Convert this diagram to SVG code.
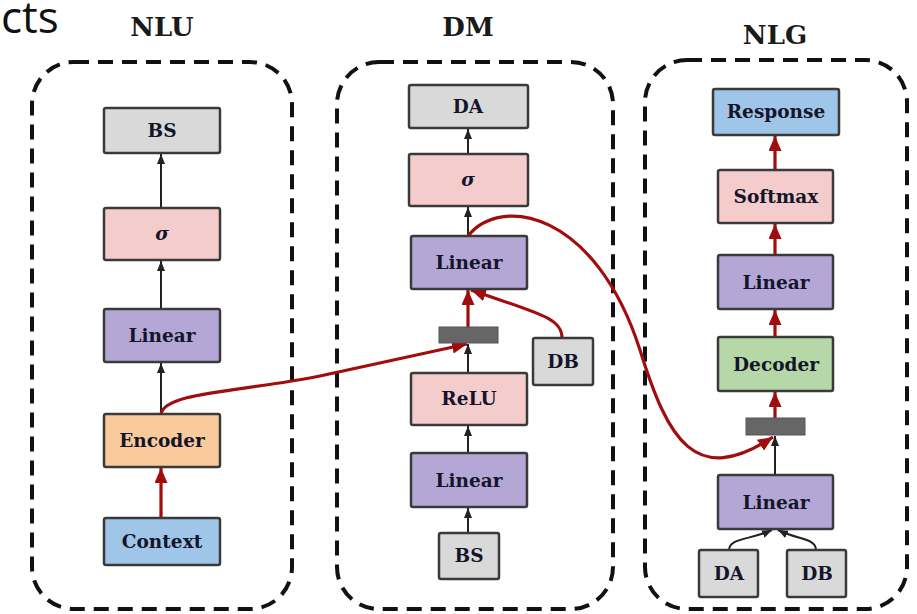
<svg xmlns="http://www.w3.org/2000/svg" width="917" height="614" viewBox="0 0 917 614">
  <style>
    .panel { fill: none; stroke: #111; stroke-width: 4; stroke-dasharray: 15 9; }
    .title { font-family: "DejaVu Serif", "Liberation Serif", serif; font-weight: bold; font-size: 26px; fill: #1a1a1a; text-anchor: middle; }
    .box { stroke: #3a3a3a; stroke-width: 2.5; }
    .lbl { font-family: "DejaVu Serif", "Liberation Serif", serif; font-weight: bold; font-size: 18.5px; fill: #15152a; text-anchor: middle; }
    .gray { fill: #d9d9d9; }
    .pink { fill: #f4cccc; }
    .purple { fill: #b4a7d6; }
    .orange { fill: #f9cb9c; }
    .blue { fill: #9fc5e8; }
    .green { fill: #b6d7a8; }
    .bar { fill: #666; stroke: #555; stroke-width: 1; }
    .blk { fill: none; stroke: #222; stroke-width: 2; }
    .red { fill: none; stroke: #a10d0d; stroke-width: 3.2; }
  </style>
  <defs>
    <marker id="ah-black" viewBox="0 0 10 8" markerWidth="10" markerHeight="8" refX="10" refY="4" orient="auto" markerUnits="userSpaceOnUse">
      <path d="M0,0 L10,4 L0,8 z" fill="#222"/>
    </marker>
    <marker id="ah-red" viewBox="0 0 15 13" markerWidth="15" markerHeight="13" refX="15" refY="6.5" orient="auto" markerUnits="userSpaceOnUse">
      <path d="M0,0 L15,6.5 L0,13 z" fill="#a10d0d"/>
    </marker>
  </defs>

  <!-- cut-off slide text -->
  <text x="1" y="33" font-family="'Open Sans', 'Noto Sans', sans-serif" font-size="44" fill="#111">cts</text>

  <!-- panel frames and titles -->
  <g id="panel-nlu">
    <rect class="panel" x="32" y="62" width="260" height="547" rx="42"/>
    <text class="title" x="162" y="36">NLU</text>
  </g>
  <g id="panel-dm">
    <rect class="panel" x="337" y="62" width="276" height="547" rx="42"/>
    <text class="title" x="468" y="36">DM</text>
  </g>
  <g id="panel-nlg">
    <rect class="panel" x="645" y="60" width="262" height="549" rx="42"/>
    <text class="title" x="775" y="44">NLG</text>
  </g>

  <!-- connectors -->
  <g id="connectors">
    <!-- NLU -->
    <path class="blk" d="M161 208 L161 154" marker-end="url(#ah-black)"/>
    <path class="blk" d="M161 309 L161 261" marker-end="url(#ah-black)"/>
    <path class="blk" d="M161 414 L161 363" marker-end="url(#ah-black)"/>
    <path class="red" d="M161 518 L161 468" marker-end="url(#ah-red)"/>
    <path class="red" d="M161 414 C 165 392, 240 392, 320 376 L 467 344" marker-end="url(#ah-red)"/>
    <!-- DM -->
    <path class="blk" d="M468 154 L468 129" marker-end="url(#ah-black)"/>
    <path class="blk" d="M468 236 L468 207" marker-end="url(#ah-black)"/>
    <path class="red" d="M468 327 L468 290" marker-end="url(#ah-red)"/>
    <path class="red" d="M562 338 C 562 318, 540 314, 471 290" marker-end="url(#ah-red)"/>
    <path class="blk" d="M468 373 L468 344" marker-end="url(#ah-black)"/>
    <path class="blk" d="M468 453 L468 426" marker-end="url(#ah-black)"/>
    <path class="blk" d="M468 533 L468 508" marker-end="url(#ah-black)"/>
    <path class="red" d="M468 236 C 500 195, 595 210, 640 350 C 668 440, 695 488, 773 437" marker-end="url(#ah-red)"/>
    <!-- NLG -->
    <path class="red" d="M775 170 L775 136" marker-end="url(#ah-red)"/>
    <path class="red" d="M775 255 L775 224" marker-end="url(#ah-red)"/>
    <path class="red" d="M775 337 L775 310" marker-end="url(#ah-red)"/>
    <path class="red" d="M775 418 L775 392" marker-end="url(#ah-red)"/>
    <path class="blk" d="M775 475 L775 436" marker-end="url(#ah-black)"/>
    <path class="blk" d="M729 550 C 729 538, 750 540, 772 530" marker-end="url(#ah-black)"/>
    <path class="blk" d="M816 550 C 816 538, 798 540, 778 530" marker-end="url(#ah-black)"/>
  </g>

  <!-- NLU nodes -->
  <g id="nlu-bs"><rect class="box gray" x="104" y="108" width="116" height="45" rx="2"/><text class="lbl" x="162" y="137">BS</text></g>
  <g id="nlu-sigma"><rect class="box pink" x="104" y="208" width="116" height="52" rx="2"/><text class="lbl" x="162" y="240" font-style="italic">σ</text></g>
  <g id="nlu-linear"><rect class="box purple" x="104" y="309" width="116" height="53" rx="2"/><text class="lbl" x="162" y="342">Linear</text></g>
  <g id="nlu-encoder"><rect class="box orange" x="104" y="414" width="116" height="53" rx="2"/><text class="lbl" x="162" y="447">Encoder</text></g>
  <g id="nlu-context"><rect class="box blue" x="104" y="518" width="116" height="47" rx="2"/><text class="lbl" x="162" y="548">Context</text></g>

  <!-- DM nodes -->
  <g id="dm-da"><rect class="box gray" x="409" y="85" width="119" height="43" rx="2"/><text class="lbl" x="468" y="113">DA</text></g>
  <g id="dm-sigma"><rect class="box pink" x="409" y="154" width="119" height="52" rx="2"/><text class="lbl" x="468" y="186" font-style="italic">σ</text></g>
  <g id="dm-linear-top"><rect class="box purple" x="411" y="236" width="116" height="53" rx="2"/><text class="lbl" x="469" y="269">Linear</text></g>
  <g id="dm-concat"><rect class="bar" x="439" y="327" width="59" height="16"/></g>
  <g id="dm-db"><rect class="box gray" x="533" y="338" width="60" height="47" rx="2"/><text class="lbl" x="563" y="368">DB</text></g>
  <g id="dm-relu"><rect class="box pink" x="411" y="373" width="116" height="52" rx="2"/><text class="lbl" x="469" y="405">ReLU</text></g>
  <g id="dm-linear-bottom"><rect class="box purple" x="411" y="453" width="116" height="54" rx="2"/><text class="lbl" x="469" y="487">Linear</text></g>
  <g id="dm-bs"><rect class="box gray" x="439" y="533" width="60" height="46" rx="2"/><text class="lbl" x="469" y="562">BS</text></g>

  <!-- NLG nodes -->
  <g id="nlg-response"><rect class="box blue" x="713" y="89" width="126" height="46" rx="2"/><text class="lbl" x="776" y="118">Response</text></g>
  <g id="nlg-softmax"><rect class="box pink" x="718" y="170" width="115" height="53" rx="2"/><text class="lbl" x="776" y="203">Softmax</text></g>
  <g id="nlg-linear-top"><rect class="box purple" x="718" y="255" width="115" height="54" rx="2"/><text class="lbl" x="776" y="289">Linear</text></g>
  <g id="nlg-decoder"><rect class="box green" x="718" y="337" width="115" height="54" rx="2"/><text class="lbl" x="776" y="371">Decoder</text></g>
  <g id="nlg-concat"><rect class="bar" x="746" y="418" width="59" height="17"/></g>
  <g id="nlg-linear-bottom"><rect class="box purple" x="718" y="475" width="115" height="54" rx="2"/><text class="lbl" x="776" y="509">Linear</text></g>
  <g id="nlg-da"><rect class="box gray" x="699" y="550" width="59" height="47" rx="2"/><text class="lbl" x="729" y="580">DA</text></g>
  <g id="nlg-db"><rect class="box gray" x="787" y="550" width="59" height="47" rx="2"/><text class="lbl" x="817" y="580">DB</text></g>
</svg>
